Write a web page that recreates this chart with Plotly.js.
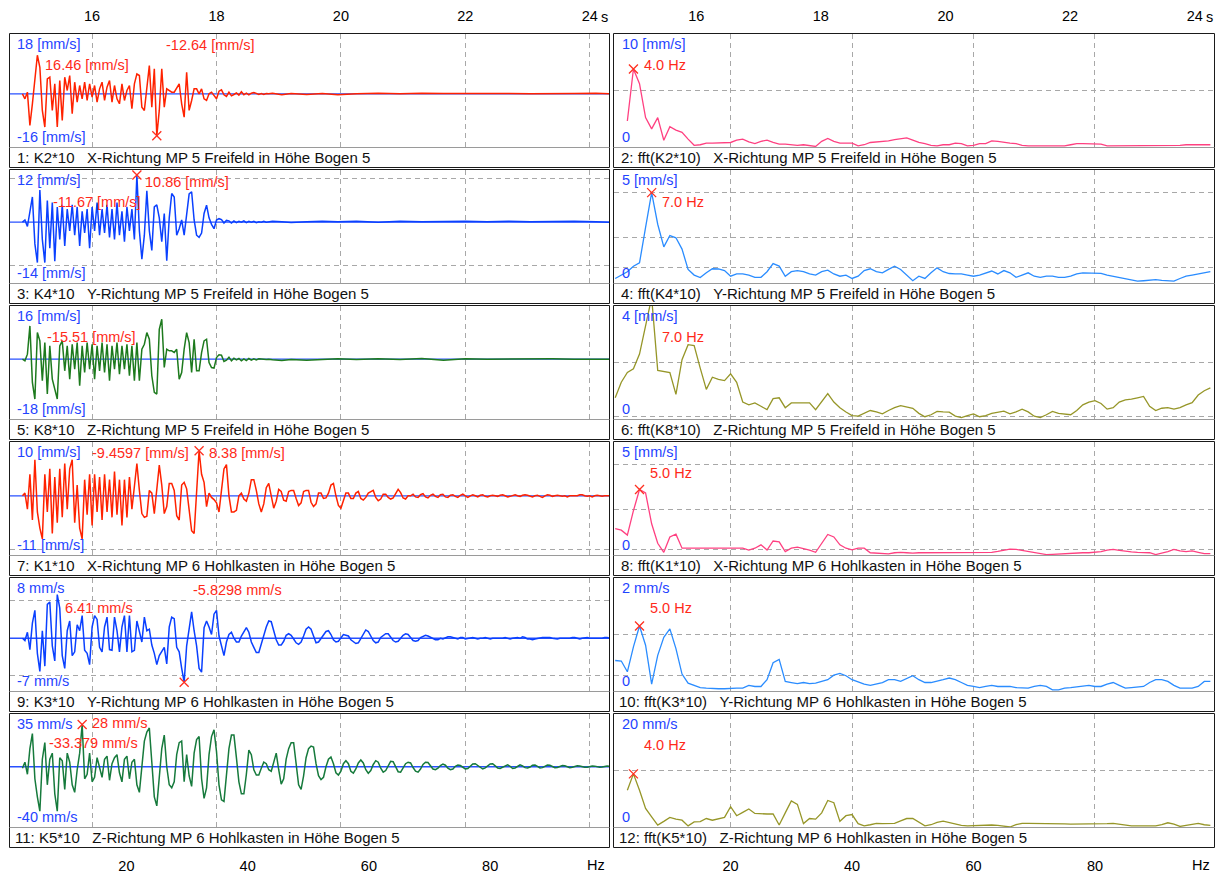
<!DOCTYPE html>
<html>
<head>
<meta charset="utf-8">
<script src="https://cdn.plot.ly/plotly-3.0.1.min.js"></script>
<style>
  html, body { margin: 0; padding: 0; background: #fff; }
  #chart { width: 1218px; height: 876px; }
</style>
</head>
<body>
<div id="chart"></div>
<script>
// ---- sampling of the records -------------------------------------------
const T0 = 14.88, DT = 0.04;   // time records: first sample [s], step [s]
const F0 = 1, DF = 1;          // spectra: first line [Hz], spacing [Hz]

// ---- time records, MP 5 Freifeld (mm/s) ---------------------------------
const k2_v = [
  0, -1.5, 0.5, -9.5, -3, 5, 11.6, 8, -5, -10,
  4.5, 5, -5, 3, -10, 4, -8, 5, 1, 5.5,
  -6, 3.5, -2.5, 2.5, -1.5, 3.5, -2, 3, -1, 2.5,
  -2.5, 1.5, 3.5, -2, 2, 4, -2.5, 2.5, -1.5, -3,
  3, -2, 1, 2.5, -4.5, 3, 6, 5.5, -4, -5,
  1, 8.5, -4, 7.5, -12.64, -5, 7.5, -4, 1.5, 1,
  0.5, 0.5, 2, 3, -3, -7, 6.5, -5, -2, 1.5,
  1.5, 0, 1.5, -1.5, -2, 0, 0.5, -0.5, -1.5, 0.8,
  1.2, -0.3, -0.8, 0.5, -0.6, -0.2, 0.3, -0.4, 0.6, -0.3,
  0.2, -0.3, 0.2, 0.4, 0, -0.2, 0.1, -0.2, 0.1, 0
];
const k4_v = [
  0, 0.5, -1, 2, 5.8, -5, -9.3, 7.4, -4, -9.3,
  5, -6, 4.5, -9, 3.5, -4, 4, -5.5, 3, -2,
  4, -3, 3.5, -5.5, 2.5, -2.5, 3, -6, 3.5, -2,
  4.5, -3, 3, -2.5, 4, -3.5, 3, -4, 4.5, -3,
  2.5, -4.5, 3.5, -2, 3, -4, 10.86, -2, -8.5, -3,
  7.2, -2, -6.5, 3.5, 4, 1, -4.5, 2, -8.9, 1,
  6.6, 5.8, -3, -1.5, 0.5, -3, 1.5, 6.5, 7, 0.5,
  -3, -3.5, -2.5, 2, 3.9, 1, -0.5, -1.5, 0.5, 0.8,
  0.6, -0.2, 0.4, 0.3, -0.2, 0.3, -0.1, 0.2, 0, 0.3,
  -0.1, 0.2, 0, 0.2, -0.1, 0.1, 0, 0.2, 0, 0.1
];
const k8_v = [
  0, -0.5, 1.5, 10, -7, -12, 8, 5.5, -6.5, 5,
  -10.5, 4, -6, -9, -12, 4, 5.5, -3.5, 4, -6,
  4.5, -3, 5, -8, 4, -4, 5, -3, 4.5, -6,
  4, -3.5, 5, -4, 4.5, -6.5, 4, -3, 5, -4.5,
  4, -3, 4.5, -5, 4, -6.5, 5, -6.5, 3, 4.5,
  8, 6, -5, -10, -10.5, 9, 12, -2.5, 3, 2.5,
  2.5, 2, 3, -6, -4, 3, 8, 5, -4, 6,
  -3.5, -3.5, 2, 5.5, 6, -1, -2.5, -2.7, 0.5, 1.3,
  1.2, -0.7, -0.3, 0.6, -0.5, 0.3, -0.2, 0.2, -0.5, 0.1,
  -0.4, 0.2, -0.3, 0.1, -0.2, 0.1, 0, 0.1, -0.1, 0
];
// quiet end of the Freifeld records (irregular time stamps)
const tail_t  = [18.9, 19.05, 19.2, 19.45, 19.7, 19.95, 20.25, 20.6, 20.95, 21.3, 21.65, 22.0, 22.35, 22.7, 23.05, 23.4, 23.75, 24.1, 24.32];
const k2_tail = [0.2, -0.3, 0.1, -0.2, 0.1, -0.3, 0, 0.15, 0, 0.2, 0.1, 0.15, 0, 0.1, 0, 0.15, 0.1, 0.15, 0];
const k4_tail = [0.2, 0.1, -0.1, 0.1, 0.2, 0.1, 0.2, 0, 0.2, 0.1, 0.2, 0.2, 0.1, 0.2, 0.1, 0.2, 0.2, 0.1, 0];
const k8_tail = [-0.2, -0.4, -0.1, -0.3, -0.2, 0.1, -0.1, 0.1, -0.1, 0.2, -0.3, 0.1, 0, 0.1, 0, 0.1, 0, 0.1, 0];

// ---- time records, MP 6 Hohlkasten (mm/s) -------------------------------
const k1_v = [
  0, 0.5, -2.5, 4, -4.5, 6.7, -3, -6, -8, 4,
  -3, 5, -7, 3.5, -5, 5, -4, 6, -2.5, 5,
  6.7, -5, 2, -6, -8, 3, -3.5, 4, -5.5, 4,
  -3, 3.5, -4.5, 4, -3, 3, -4, 4.5, -3.5, 3,
  -5.5, 3, -4, 3.5, -2.5, 2, 6, 1, -3.3, -4,
  -3.8, 1, 0.5, -3.3, 1, 5.7, 2, -3.3, -2, 2.3,
  2.3, 1, -3.7, -4.5, 2, 2.5, 1.3, -3, -6.5, -7,
  1, 8.38, 4, 2.5, -2, 0.5, -0.3, -0.7, -1.3, -3,
  1, 5, 5.8, 0, -3, -3, -2.7, 0, 0.5, -0.6,
  -1, 0.5, 3, 3, 1, -1.5, -3, -1.5, 1.5, 2.3,
  0, -2.3, -1, 1.2, 0.8, -0.8, -1, 0.8, 1, 1,
  -0.5, -1.8, -1.3, 0.8, 1, 1, -1.2, -2, -1.5, 0.5,
  0.5, -0.5, -0.4, 0.5, 2, 2.3, 0, -1.8, -2.3, -1,
  0.5, 0.5, -0.5, -0.5, 0.5, 0.8, -0.5, -0.8, -0.3, 0.5,
  0.8, 1, -0.3, -0.9, -0.6, 0.3, 0.3, -0.3, -0.6, -0.4,
  0.4, 1.2, 0.6, -0.4, -0.6, 0, 0, 0.3, -0.2, -0.3,
  0.2, 0.4, -0.2, -0.4, 0.1, 0.3, -0.1, -0.3, 0.2, 0.3,
  -0.2, -0.3, 0.1, 0.2, -0.1, -0.3, 0.1, 0.3, 0, -0.3,
  0, 0.2, 0, -0.2, 0.1, 0.2, -0.1, -0.2, 0, 0.1,
  0, -0.1, 0.1, 0.2, 0, -0.2, -0.1, 0.1, 0.2, 0,
  -0.1, 0.1, 0.2, 0.1, -0.1, -0.2, 0, 0.1, -0.1, -0.3,
  0, 0.2, 0.1, -0.1, 0, 0.1, 0, -0.1, 0, -0.2,
  0, 0, -0.1, 0, 0.2, 0.2, 0, -0.1, 0, -0.2,
  0, 0.1, 0, -0.1, 0, 0, 0
];
const k3_v = [
  0, -0.3, 0.8, -1.5, 2, 3.7, -2, -4.4, 1, -3.7,
  4.5, 4.8, -1, -3, 5.8, 4, -2.3, -4, 1, 2.3,
  -2.3, -1.8, 1.8, 1, 3, -1.6, -2, -3.5, 1.5, 3,
  2.5, -1.2, -1.8, 1.5, 2.8, -1.5, -1.6, 2.8, 1, -1.8,
  1.5, 3, -1.8, 3, -1.8, -1.6, 2.3, 1, -0.5, 2.8,
  1, 1.2, -0.9, -2, -3.5, -2.3, -1.8, -1.2, -3.4, 1.5,
  2.8, 2.6, -1.2, -1.8, -4, -5.8298, -1, 1.5, 3.5, 1,
  -1, -4, -4.5, 1.4, 2.3, 1.5, 0.5, 3.2, 3.7, 0.3,
  -1, -2.3, -0.5, 0.5, 0.8, 0, -0.5, -0.5, 0.3, 0.8,
  1.4, 0.8, -0.5, -1.2, -1.9, -1.9, -0.8, 0.5, 1.5, 2.3,
  2.2, 1, -0.2, -0.9, -0.9, -0.4, 0.4, 0.6, 0.4, -0.1,
  -0.6, -0.8, -0.5, 0.3, 1.2, 1.5, 1.2, 0.3, -0.6, -0.5,
  0, 0.5, 0.9, 1, 0.5, -0.2, -0.5, -0.4, 0.1, 0.5,
  0.4, 0.3, -0.2, -0.5, -0.7, -0.6, 0, 0.7, 1.1, 0.9,
  0.3, -0.3, -0.6, -0.5, 0.1, 0.4, 0.6, 0.6, 0.2, -0.3,
  -0.5, -0.4, 0, 0.4, 0.6, 0.5, 0.1, -0.3, -0.4, -0.3,
  0.1, 0.3, 0.4, 0.3, 0.1, -0.1, -0.2, -0.2, 0, -0.1,
  0.1, 0.2, 0.2, 0.1, -0.1, -0.1, 0.1, 0.1, -0.1, 0,
  0, 0.1, 0, -0.1, 0, 0, 0.1, 0, -0.1, 0,
  0, 0, -0.1, 0, 0.1, 0, -0.1, 0, 0.1, 0.1,
  0, 0.2, 0.1, -0.1, -0.1, -0.2, -0.1, 0, 0.1, 0.1,
  0.1, 0.1, 0.1, 0, -0.1, -0.1, 0, 0, 0, 0,
  0, 0.1, 0.1, 0, -0.1, 0, 0.1, 0.1, 0, 0,
  -0.1, -0.1, 0, 0, 0.1, 0.1, 0
];
const k5_v = [
  -1, 3, -5, 12, 22, -8, -20, -29.5, 5, 16,
  -12, 5, 9, -18, -29.5, 6, 4, -15, 9, 3,
  -12, -17, -2, 9, 28, -8, -5, 9, -10, -7,
  6, 0, -7, 5, 7, -9, 2, 6, 8, -4,
  -10, 5, 7, -8, 3, 5, -12, -17, 2, 17,
  23, 25.7, 3, -20, -26, -8, 12, 21, 0, -12,
  -14, -10, 8, 16, 17, -10, 8, -6, -13, 9,
  18, 20, -8, -21, -14, 8, 20, 24.5, 10, -12,
  -22, -23, -4, 12, 21, 21, 6, -10, -18, -18,
  -5, 11, 8, -2, -5.5, -5.5, -1, 3, 2, -2,
  -3, 4, 9, -2, -11.5, -8, 5, 12, 16, 16,
  2, -12, -15, -6, 6, 12, 13.7, 13, 2, -6,
  -8.5, -7, 0, 5, 6.5, 2, -4, -5.5, -3, 2,
  4, 2, -3, -4.3, -1.5, 2.5, 4.5, 2.5, -2, -4.3,
  -2.5, 1.5, 4, 3, -1, -3.6, -2.5, 1, 3.6, 3.3,
  0, -3.3, -3.6, -1, 2, 3, 2.5, -0.5, -3, -3.6,
  -1.5, 1.5, 3, 2.8, 0.5, -1.5, -2, -1, 0.8, 1.7,
  1, -1, -2, -1.5, 0.3, 1.2, 0.8, -0.5, -1.5, -1.2,
  0.5, 1.8, 2, 0.8, -0.8, -1.5, -0.8, 0.8, 1.8, 2,
  0.6, -0.8, -1.2, -0.4, 0.8, 1.2, 0.3, -1.2, -0.8, 0.4,
  1.2, 0.5, -0.6, -0.8, -0.2, 1, 1.2, 0.2, -0.8, -0.6,
  0.2, 1.1, 1, 0, -0.6, -0.5, 0.2, 0.8, 0.6, -0.2,
  -0.6, -0.4, 0.3, 0.6, 0.5, -0.1, -0.4, -0.4, 0.1, 0.5,
  0.4, -0.1, -0.4, -0.2, 0.3, 0.5, 0.2
];

// ---- amplitude spectra (mm/s), 1 Hz .. 99 Hz ----------------------------
const fft_k2 = [
  null, null, 2.3, 6.9, 5.6, 2.6, 1.6, 2.6, 0.6, 1.8,
  1.5, 1.3, 0.7, 0.15, 0.2, 0.35, 0.35, 0.35, 0.35, 0.4,
  0.6, 0.7, 0.45, 0.3, 0.5, 0.6, 0.4, 0.25, 0.25, 0.2,
  0.15, 0.2, 0.1, 0.05, 0.5, 0.75, 0.5, 0.35, 0.35, 0.35,
  0.1, 0.2, 0.4, 0.45, 0.45, 0.55, 0.65, 0.75, 0.8, 0.6,
  0.4, 0.3, 0.15, 0.1, 0.2, 0.2, 0.35, 0.3, 0.1, 0.15,
  0.3, 0.3, 0.55, 0.5, 0.4, 0.35, 0.3, 0.15, 0.1, 0.1,
  0.1, 0.1, 0.1, 0.1, 0.1, 0.2, 0.3, 0.3, 0.3, 0.3,
  0.25, 0.1, 0.1, 0.1, 0.1, 0.1, 0.1, 0.1, 0.15, 0.15,
  0.15, 0.12, 0.15, 0.15, 0.2, 0.2, 0.2, 0.2, 0.2
];
const fft_k4 = [
  0.2, 0.35, 0.5, 0.74, 0.89, 2.46, 4.0, 2.6, 1.6, 2.1,
  2.0, 1.5, 0.6, 0.35, 0.24, 0.45, 0.63, 0.62, 0.55, 0.3,
  0.4, 0.4, 0.35, 0.25, 0.25, 0.5, 0.86, 0.75, 0.3, 0.5,
  0.55, 0.5, 0.4, 0.35, 0.5, 0.57, 0.4, 0.3, 0.35, 0.2,
  0.3, 0.55, 0.63, 0.5, 0.45, 0.6, 0.74, 0.6, 0.35, 0.1,
  0.3, 0.2, 0.45, 0.67, 0.5, 0.42, 0.4, 0.4, 0.35, 0.3,
  0.35, 0.45, 0.53, 0.4, 0.55, 0.45, 0.25, 0.35, 0.45, 0.3,
  0.25, 0.3, 0.3, 0.25, 0.25, 0.3, 0.4, 0.45, 0.45, 0.45,
  0.43, 0.35, 0.3, 0.25, 0.2, 0.15, 0.08, 0.1, 0.12, 0.15,
  0.12, 0.1, 0.08, 0.2, 0.3, 0.35, 0.4, 0.48, 0.5
];
const fft_k8 = [
  0.75, 1.3, 1.65, 1.78, 2.3, 3.3, 4.3, 1.72, 1.68, 1.64,
  0.87, 2.1, 2.63, 2.6, 1.8, 1.05, 1.48, 1.4, 1.36, 1.6,
  1.3, 0.6, 0.5, 0.57, 0.45, 0.33, 0.72, 0.75, 0.4, 0.57,
  0.57, 0.57, 0.57, 0.33, 0.6, 0.9, 0.6, 0.4, 0.25, 0.12,
  0.1, 0.2, 0.3, 0.25, 0.18, 0.3, 0.4, 0.47, 0.42, 0.38,
  0.2, 0.08, 0.15, 0.27, 0.25, 0.24, 0.1, 0.05, 0.12, 0.18,
  0.08, 0.12, 0.2, 0.25, 0.28, 0.18, 0.25, 0.35, 0.25, 0.1,
  0.05, 0.15, 0.27, 0.2, 0.17, 0.15, 0.3, 0.5, 0.6, 0.65,
  0.55, 0.35, 0.4, 0.6, 0.68, 0.7, 0.75, 0.8, 0.45, 0.3,
  0.38, 0.4, 0.35, 0.4, 0.5, 0.58, 0.85, 1.0, 1.1
];
const fft_k1 = [
  1.17, 1.1, 0.88, 1.96, 2.9, 2.75, 1.38, 0.52, 0.12, 0.8,
  0.92, 0.3, 0.3, 0.3, 0.32, 0.32, 0.3, 0.3, 0.3, 0.3,
  0.3, 0.3, 0.22, 0.3, 0.45, 0.22, 0.62, 0.58, 0.15, 0.3,
  0.35, 0.3, 0.22, 0.12, 0.5, 0.91, 0.8, 0.45, 0.3, 0.23,
  0.3, 0.3, 0.1, 0.08, 0.05, 0.05, 0.1, 0.12, 0.1, 0.08,
  0.1, 0.1, 0.1, 0.11, 0.11, 0.11, 0.11, 0.12, 0.1, 0.1,
  0.1, 0.12, 0.12, 0.16, 0.22, 0.26, 0.25, 0.2, 0.18, 0.1,
  0.05, 0.02, 0.03, 0.05, 0.06, 0.06, 0.08, 0.1, 0.1, 0.12,
  0.15, 0.22, 0.25, 0.2, 0.16, 0.14, 0.12, 0.1, 0.1, 0.02,
  0.08, 0.15, 0.25, 0.18, 0.15, 0.18, 0.12, 0.06, 0.06
];
const fft_k3 = [
  0.54, 0.53, 0.34, 0.78, 1.15, 0.81, 0.12, 0.63, 0.95, 1.1,
  0.75, 0.3, 0.14, 0.1, 0.06, 0.05, 0.04, 0.04, 0.04, 0.05,
  0.05, 0.05, 0.1, 0.08, 0.08, 0.2, 0.5, 0.56, 0.17, 0.15,
  0.13, 0.15, 0.13, 0.14, 0.17, 0.2, 0.28, 0.31, 0.27, 0.2,
  0.16, 0.12, 0.1, 0.13, 0.15, 0.2, 0.2, 0.17, 0.22, 0.27,
  0.2, 0.15, 0.15, 0.17, 0.2, 0.23, 0.2, 0.15, 0.1, 0.08,
  0.06, 0.08, 0.1, 0.08, 0.08, 0.08, 0.06, 0.05, 0.05, 0.08,
  0.1, 0.08, 0.02, 0.02, 0.05, 0.06, 0.07, 0.08, 0.1, 0.08,
  0.08, 0.12, 0.15, 0.1, 0.05, 0.06, 0.07, 0.08, 0.15, 0.2,
  0.2, 0.17, 0.1, 0.05, 0.05, 0.05, 0.08, 0.17, 0.17
];
const fft_k5 = [
  null, null, 6.5, 9.4, 6.5, 3.3, 1.8, 0.35, 1.0, 1.7,
  1.4, 1.2, 0.2, 0.9, 0.95, 1.5, 1.2, 1.4, 1.7, 3.6,
  2.0, 2.6, 3.2, 2.4, 2.3, 2.3, 2.3, 0.35, 2.5, 4.6,
  4.0, 0.6, 1.5, 1.4, 2.5, 4.7, 4.3, 1.0, 2.0, 2.2,
  0.6, 0.2, 0.4, 0.65, 0.6, 0.6, 0.65, 1.1, 1.5, 1.5,
  0.8, 0.2, 0.4, 0.8, 1.05, 0.8, 0.45, 0.3, 0.2, 0.25,
  0.3, 0.35, 0.35, 0.3, 0.15, 0, 0.4, 0.65, 0.65, 0.65,
  0.65, 0.65, 0.65, 0.6, 0.55, 0.5, 0.5, 0.5, 0.5, 0.5,
  0.5, 0.6, 0.65, 0.5, 0.3, 0.2, 0.2, 0.2, 0.2, 0.2,
  0.4, 0.75, 0.5, 0.1, 0.3, 0.5, 0.65, 0.4, 0.3
];

// ---- channel captions ---------------------------------------------------
const SP = '\u00a0\u00a0\u00a0';
const captions = [
  '1: K2*10' + SP + 'X-Richtung MP 5 Freifeld in Höhe Bogen 5',
  '2: fft(K2*10)' + SP + 'X-Richtung MP 5 Freifeld in Höhe Bogen 5',
  '3: K4*10' + SP + 'Y-Richtung MP 5 Freifeld in Höhe Bogen 5',
  '4: fft(K4*10)' + SP + 'Y-Richtung MP 5 Freifeld in Höhe Bogen 5',
  '5: K8*10' + SP + 'Z-Richtung MP 5 Freifeld in Höhe Bogen 5',
  '6: fft(K8*10)' + SP + 'Z-Richtung MP 5 Freifeld in Höhe Bogen 5',
  '7: K1*10' + SP + 'X-Richtung MP 6 Hohlkasten in Höhe Bogen 5',
  '8: fft(K1*10)' + SP + 'X-Richtung MP 6 Hohlkasten in Höhe Bogen 5',
  '9: K3*10' + SP + 'Y-Richtung MP 6 Hohlkasten in Höhe Bogen 5',
  '10: fft(K3*10)' + SP + 'Y-Richtung MP 6 Hohlkasten in Höhe Bogen 5',
  '11: K5*10' + SP + 'Z-Richtung MP 6 Hohlkasten in Höhe Bogen 5',
  '12: fft(K5*10)' + SP + 'Z-Richtung MP 6 Hohlkasten in Höhe Bogen 5'
];

// axis tick values
const T_TICKS = [16, 18, 20, 22, 24];
const F_TICKS = [20, 40, 60, 80];

// ---- colours, fonts, page geometry ---------------------------------------
const RED = '#ff2200', BLUE = '#0a40ff', GREEN = '#1d7a1d', TEAL = '#167a3c';
const PINK = '#ff4081', SKY = '#2a8cff', OLIVE = '#969628';
const LABEL_BLUE = '#1f44ff', LABEL_RED = '#ff2a1a', ZERO_BLUE = '#2850ff';
const GRID = '#a8a8a8', DASH = '5px,4px', FRAME = '#1a1a1a';
const FONT = 'Arial, "Liberation Sans", sans-serif';

const W = 1218, H = 876;
const px = x => x / W;
const py = y => 1 - y / H;
const ROW0 = 34, ROW_STEP = 136, PLOT_H = 113, STRIP_H = 20;
const COLS = [{x0: 10, x1: 609, bx0: 9.5, bx1: 609.5}, {x0: 614, x1: 1214, bx0: 613.5, bx1: 1214.5}];
const T_RANGE = [14.68, 24.31];
const F_RANGE = [0.8, 99.6];

// panel definitions, row by row (left: record, right: its spectrum)
const panels = [
  {kind: 't', v: k2_v, tail: k2_tail, color: RED, top: 18, bottom: -16, unit: '[mm/s]', grid: [],
   mark: 54, markAt: [164, 11], notes: [['16.46 [mm/s]', 43, 31]]},
  {kind: 'f', v: fft_k2, color: PINK, top: 10, unit: '[mm/s]', grid: [5], mark: 3, markAt: [642, 31]},
  {kind: 't', v: k4_v, tail: k4_tail, color: BLUE, top: 12, bottom: -14, unit: '[mm/s]', grid: [-10, 10],
   mark: 46, markAt: [142.6, 11.7], notes: [['-11.67 [mm/s]', 50.8, 31.7]]},
  {kind: 'f', v: fft_k4, color: SKY, top: 5, unit: '[mm/s]', grid: [0.7, 2, 4], mark: 6, markAt: [659.7, 31.7]},
  {kind: 't', v: k8_v, tail: k8_tail, color: GREEN, top: 16, bottom: -18, unit: '[mm/s]', grid: [],
   mark: null, notes: [['-15.51 [mm/s]', 45, 31]]},
  {kind: 'f', v: fft_k8, color: OLIVE, top: 4, unit: '[mm/s]', grid: [0.08, 2], mark: null, peak: 6, markAt: [659.7, 30.7]},
  {kind: 't', v: k1_v, color: RED, top: 10, bottom: -11, unit: '[mm/s]', grid: [-10, 10],
   mark: 71, markAt: [207, 11], notes: [['-9.4597 [mm/s]', 90, 11]]},
  {kind: 'f', v: fft_k1, color: PINK, top: 5, unit: '[mm/s]', grid: [0.25, 2, 4], mark: 4, markAt: [648, 31]},
  {kind: 't', v: k3_v, color: BLUE, top: 8, bottom: -7, unit: 'mm/s', grid: [-5, 5],
   mark: 65, markAt: [191, 12], notes: [['6.41 mm/s', 62.5, 30]]},
  {kind: 'f', v: fft_k3, color: SKY, top: 2, unit: 'mm/s', grid: [0.27, 1], mark: 4, markAt: [648, 30]},
  {kind: 't', v: k5_v, color: TEAL, top: 35, bottom: -40, unit: 'mm/s', grid: [],
   mark: 24, markAt: [90, 9], notes: [['-33.379 mm/s', 47, 29]]},
  {kind: 'f', v: fft_k5, color: OLIVE, top: 20, unit: 'mm/s', grid: [0.1, 10], mark: 3, markAt: [642, 31]}
];

const layout = {
  width: W, height: H,
  margin: {l: 0, r: 0, t: 0, b: 0},
  paper_bgcolor: '#ffffff', plot_bgcolor: '#ffffff',
  showlegend: false,
  font: {family: FONT, size: 14.5, color: '#000'},
  shapes: [], annotations: []
};
const traces = [];

function label(text, x, y, color, size) {
  layout.annotations.push({
    text: text, x: px(x), y: py(y), xref: 'paper', yref: 'paper',
    xanchor: 'left', yanchor: 'middle', showarrow: false,
    font: {family: FONT, size: size || 14.5, color: color}
  });
}

panels.forEach((P, p) => {
  const n = p + 1, row = Math.floor(p / 2), col = p % 2;
  const sfx = n === 1 ? '' : String(n);
  const xa = 'x' + sfx, ya = 'y' + sfx;
  const top = ROW0 + ROW_STEP * row, bot = top + PLOT_H;
  const C = COLS[col];
  const isT = P.kind === 't';

  layout['xaxis' + sfx] = {
    domain: [px(C.x0), px(C.x1)], range: isT ? T_RANGE : F_RANGE, anchor: ya,
    tickvals: isT ? T_TICKS : F_TICKS, showticklabels: false, ticks: '',
    showgrid: true, gridcolor: GRID, griddash: DASH, gridwidth: 1,
    zeroline: false, showline: false, fixedrange: true
  };
  layout['yaxis' + sfx] = {
    domain: [py(bot), py(top)], range: isT ? [P.bottom, P.top] : [0, P.top], anchor: xa,
    tickvals: P.grid, showticklabels: false, ticks: '',
    showgrid: true, gridcolor: GRID, griddash: DASH, gridwidth: 1,
    zeroline: false, showline: false, fixedrange: true
  };

  // sample positions
  let xs, ys;
  if (isT) {
    xs = P.v.map((_, i) => +(T0 + i * DT).toFixed(2));
    ys = P.v.slice();
    if (P.tail) { xs = xs.concat(tail_t); ys = ys.concat(P.tail); }
    // zero reference line of the record
    layout.shapes.push({
      type: 'line', xref: xa + ' domain', yref: ya, x0: 0, x1: 1, y0: 0, y1: 0,
      line: {color: ZERO_BLUE, width: 1.3}, layer: 'below'
    });
  } else {
    xs = P.v.map((_, i) => F0 + i * DF);
    ys = P.v.slice();
  }

  traces.push({
    type: 'scatter', mode: 'lines', x: xs, y: ys, xaxis: xa, yaxis: ya,
    line: {color: P.color, width: isT ? 1.5 : 1.3}, hoverinfo: 'skip', connectgaps: false
  });

  // cursor marker and its read-out
  if (P.mark !== null && P.mark !== undefined) {
    traces.push({
      type: 'scatter', mode: 'markers', x: [xs[P.mark]], y: [ys[P.mark]], xaxis: xa, yaxis: ya,
      marker: {symbol: 'x-thin-open', size: 9, color: '#ff3020', line: {width: 1.3, color: '#ff3020'}},
      hoverinfo: 'skip'
    });
    const txt = isT ? `${ys[P.mark]} ${P.unit}` : `${xs[P.mark].toFixed(1)} Hz`;
    label(txt, P.markAt[0], top + P.markAt[1], LABEL_RED);
  } else if (P.peak !== undefined) {
    label(`${xs[P.peak].toFixed(1)} Hz`, P.markAt[0], top + P.markAt[1], LABEL_RED);
  }
  (P.notes || []).forEach(nt => label(nt[0], nt[1], top + nt[2], LABEL_RED));

  // scale limits
  const lx = C.x0 + (col ? 6 : 5);
  label(`${P.top} ${P.unit}`, lx, top + 10, LABEL_BLUE);
  label(isT ? `${P.bottom} ${P.unit}` : '0', lx, top + 103, LABEL_BLUE);

  // frame, caption strip
  const by0 = top - 0.5, by1 = bot + STRIP_H + 0.5;
  layout.shapes.push({
    type: 'rect', xref: 'paper', yref: 'paper',
    x0: px(C.bx0), x1: px(C.bx1), y0: py(by1), y1: py(by0),
    line: {color: FRAME, width: 1}, fillcolor: 'rgba(0,0,0,0)', layer: 'above'
  });
  layout.shapes.push({
    type: 'line', xref: 'paper', yref: 'paper',
    x0: px(C.bx0), x1: px(C.bx1), y0: py(bot + 0.5), y1: py(bot + 0.5),
    line: {color: '#9a9a9a', width: 1}, layer: 'above'
  });
  label(captions[p], C.x0 + (captions[p].startsWith('1') && captions[p][1] !== ':' ? 2.5 : 4.5),
        bot + 10.5, '#111', 15);
});

// outer tick labels: time on top, frequency at the bottom, for both columns
const tickFont = {family: FONT, size: 14.5, color: '#000'};
Object.assign(layout.xaxis, {
  showticklabels: true, side: 'top', ticks: 'outside', ticklen: 6,
  tickcolor: 'rgba(0,0,0,0)', tickfont: tickFont
});
layout.xaxis13 = {
  overlaying: 'x2', anchor: 'y2', side: 'top', range: T_RANGE, tickvals: T_TICKS,
  showgrid: false, zeroline: false, showline: false, ticks: 'outside', ticklen: 6,
  tickcolor: 'rgba(0,0,0,0)', tickfont: tickFont, fixedrange: true
};
layout.xaxis14 = {
  overlaying: 'x11', anchor: 'y11', side: 'bottom', range: F_RANGE, tickvals: F_TICKS,
  showgrid: false, zeroline: false, showline: false, ticks: 'outside', ticklen: 26,
  tickcolor: 'rgba(0,0,0,0)', tickfont: tickFont, fixedrange: true
};
Object.assign(layout.xaxis12, {
  showticklabels: true, side: 'bottom', ticks: 'outside', ticklen: 26,
  tickcolor: 'rgba(0,0,0,0)', tickfont: tickFont
});
traces.push({type: 'scatter', mode: 'lines', x: [null], y: [null], xaxis: 'x13', yaxis: 'y2', hoverinfo: 'skip'});
traces.push({type: 'scatter', mode: 'lines', x: [null], y: [null], xaxis: 'x14', yaxis: 'y11', hoverinfo: 'skip'});

// unit suffixes next to the last tick labels
['x', 'x13'].forEach(ax => layout.annotations.push({
  text: 's', xref: ax, yref: 'paper', x: 24, y: py(16.5), xanchor: 'left', yanchor: 'middle',
  xshift: 9, showarrow: false, font: tickFont
}));
['x11', 'x12'].forEach(ax => layout.annotations.push({
  text: 'Hz', xref: ax + ' domain', yref: 'paper', x: 1, y: py(864.5), xanchor: 'right', yanchor: 'middle',
  xshift: -2, showarrow: false, font: tickFont
}));

Plotly.newPlot('chart', traces, layout, {staticPlot: true, displayModeBar: false});
</script>
</body>
</html>
